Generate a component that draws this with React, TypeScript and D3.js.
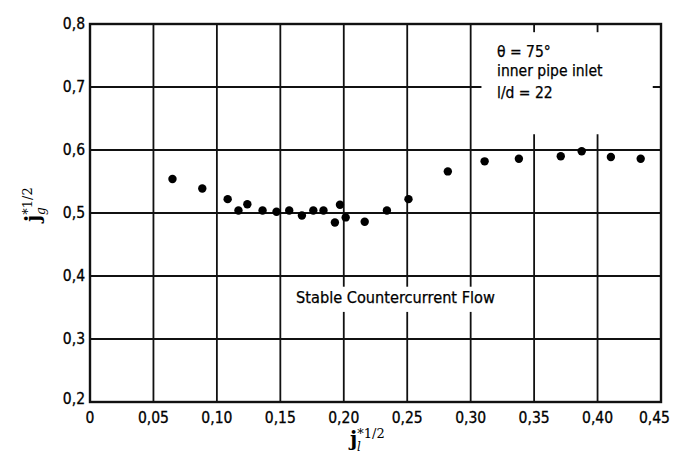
import React, { useEffect, useRef } from 'react';
import * as d3 from 'd3';

const jl = [0.065, 0.0885, 0.1085, 0.117, 0.124, 0.136, 0.147, 0.157, 0.167, 0.176, 0.184, 0.193, 0.197, 0.2015, 0.2165, 0.234, 0.251, 0.282, 0.311, 0.338, 0.371, 0.3875, 0.4105, 0.434];
const jg = [0.554, 0.539, 0.522, 0.504, 0.514, 0.504, 0.502, 0.504, 0.496, 0.504, 0.504, 0.485, 0.513, 0.493, 0.486, 0.504, 0.522, 0.566, 0.582, 0.586, 0.590, 0.598, 0.589, 0.586];

const xTicks = [0, 0.05, 0.1, 0.15, 0.2, 0.25, 0.3, 0.35, 0.4, 0.45];
const yTicks = [0.2, 0.3, 0.4, 0.5, 0.6, 0.7, 0.8];
const notes = ['θ = 75°', 'inner pipe inlet', 'l/d = 22'];
const regionLabel = 'Stable Countercurrent Flow';

const FONT = '"DejaVu Sans Condensed", "Liberation Sans Narrow", "DejaVu Sans", sans-serif';

export default function App() {
    const ref = useRef<SVGSVGElement>(null);

    useEffect(() => {
        const svg = d3.select(ref.current);
        svg.selectAll('*').remove();

        const x = d3.scaleLinear().domain([0, 0.45]).range([90, 661]);
        const y = d3.scaleLinear().domain([0.2, 0.8]).range([402, 24]);
        const fmt = (v: number, d: number) => v.toFixed(d).replace('.', ',');

        const g = svg.append('g');

        // grid
        g.selectAll('line.vx')
            .data(xTicks.slice(1, -1))
            .enter()
            .append('line')
            .attr('x1', d => x(d)).attr('x2', d => x(d))
            .attr('y1', y(0.2)).attr('y2', y(0.8))
            .attr('stroke', '#111').attr('stroke-width', 1.8);
        g.selectAll('line.hy')
            .data(yTicks.slice(1, -1))
            .enter()
            .append('line')
            .attr('x1', x(0)).attr('x2', x(0.45))
            .attr('y1', d => y(d)).attr('y2', d => y(d))
            .attr('stroke', '#111').attr('stroke-width', 1.8);

        // white boxes behind the notes (grid is broken there)
        g.append('rect')
            .attr('x', x(0.3085)).attr('y', y(0.787))
            .attr('width', x(0.4435) - x(0.3085)).attr('height', y(0.625) - y(0.787))
            .attr('fill', '#fff');
        g.append('rect')
            .attr('x', x(0.1615)).attr('y', y(0.383))
            .attr('width', x(0.3215) - x(0.1615)).attr('height', y(0.343) - y(0.383))
            .attr('fill', '#fff');

        // frame
        g.append('rect')
            .attr('x', x(0)).attr('y', y(0.8))
            .attr('width', x(0.45) - x(0)).attr('height', y(0.2) - y(0.8))
            .attr('fill', 'none').attr('stroke', '#111').attr('stroke-width', 2.4);

        // tick labels (last one pulled inside the page like in the original)
        const last = xTicks[xTicks.length - 1];
        g.selectAll('text.xt')
            .data(xTicks)
            .enter()
            .append('text')
            .attr('x', d => (d === last ? x(d) + 9 : x(d)))
            .attr('y', 423)
            .attr('text-anchor', d => (d === last ? 'end' : 'middle'))
            .style('font-family', FONT).style('font-size', '15.5px')
            .style('stroke', '#000').style('stroke-width', 0.3)
            .text(d => (d === 0 ? '0' : fmt(d, 2)));
        g.selectAll('text.yt')
            .data(yTicks)
            .enter()
            .append('text')
            .attr('x', 85)
            .attr('y', d => y(d) + 5 - (d === 0.2 ? 3 : 0))
            .attr('text-anchor', 'end')
            .style('font-family', FONT).style('font-size', '15.5px')
            .style('stroke', '#000').style('stroke-width', 0.3)
            .text(d => fmt(d, 1));

        // points
        g.selectAll('circle')
            .data(d3.zip(jl, jg))
            .enter()
            .append('circle')
            .attr('cx', d => x(d[0]))
            .attr('cy', d => y(d[1]))
            .attr('r', 4.2)
            .attr('fill', '#000');

        // annotation
        g.selectAll('text.note')
            .data(notes)
            .enter()
            .append('text')
            .attr('x', 497)
            .attr('y', (d, i) => 57 + i * 19 + (i === 2 ? 3 : 0))
            .style('font-family', FONT).style('font-size', '15.5px')
            .style('stroke', '#000').style('stroke-width', 0.25)
            .text(d => d);
        g.append('text')
            .attr('x', 296).attr('y', 303)
            .style('font-family', FONT).style('font-size', '16.2px')
            .style('stroke', '#000').style('stroke-width', 0.25)
            .text(regionLabel);

        // axis titles
        const xl = g.append('text')
            .attr('x', 350).attr('y', 446)
            .style('font-family', '"DejaVu Serif", "Liberation Serif", serif')
            .style('font-size', '20px').style('font-weight', 'bold');
        xl.append('tspan').text('j');
        xl.append('tspan').attr('dy', -8).style('font-size', '13px').style('font-weight', 'normal').text('*1/2');
        xl.append('tspan').attr('x', 357).attr('dy', 13).style('font-size', '12px').style('font-style', 'italic').style('font-weight', 'normal').text('l');

        const yl = g.append('text')
            .attr('transform', 'translate(40,222) rotate(-90)')
            .style('font-family', '"DejaVu Serif", "Liberation Serif", serif')
            .style('font-size', '20px').style('font-weight', 'bold');
        yl.append('tspan').text('j');
        yl.append('tspan').attr('dy', -8).style('font-size', '13px').style('font-weight', 'normal').text('*1/2');
        yl.append('tspan').attr('x', 7).attr('dy', 13).style('font-size', '12px').style('font-style', 'italic').style('font-weight', 'normal').text('g');
    }, []);

    return (
        <svg ref={ref} width={675} height={461} style={{ display: 'block', position: 'absolute', left: 0, top: 0, background: '#fff' }} />
    );
}
